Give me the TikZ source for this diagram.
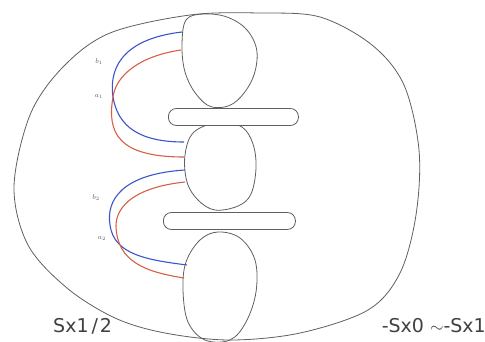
\documentclass[tikz,border=0pt]{standalone}
\usepackage{fontspec}
\newfontfamily\lblfont{DejaVu Sans}
\definecolor{outl}{RGB}{95,95,95}
\definecolor{cblue}{RGB}{60,85,200}
\definecolor{cred}{RGB}{215,95,70}
\tikzset{
  shapeline/.style={draw=outl, line width=0.8pt},
  bluecurve/.style={draw=cblue, line width=1.1pt},
  redcurve/.style={draw=cred, line width=1.1pt},
  barbox/.style={draw=outl, line width=0.8pt, fill=white, rounded corners=8pt},
  smalllbl/.style={font=\fontsize{7.5}{8}\selectfont, text=outl, inner sep=0pt},
  biglbl/.style={font=\lblfont\fontsize{19}{20}\selectfont, text=black!75, inner sep=0pt}
}
\begin{document}
\begin{tikzpicture}[x=1pt,y=-1pt]
\useasboundingbox (0,0) rectangle (485,341);
% outer boundary
\draw[shapeline] plot[smooth cycle, tension=0.55] coordinates {
 (230,340) (300,333) (368,310) (400,273) (416,215) (419,150) (404,85) (372,45) (320,17) (260,13) (190,15)
 (110,33) (63,67) (30,115) (14,187) (28,245) (67,288) (115,318) (165,333)};
% top blob
\draw[shapeline] plot[smooth cycle, tension=0.6] coordinates {
 (186,20) (182,45) (185,72) (196,94) (212,107) (234,103) (252,80) (257,52) (247,30) (227,17) (203,14)};
% middle blob
\draw[shapeline] plot[smooth cycle, tension=0.6] coordinates {
 (194,132) (185,155) (187,182) (198,200) (215,210) (238,206) (251,194) (256,168) (253,144) (242,127) (220,122)};
% bottom blob
\draw[shapeline] plot[smooth cycle, tension=0.6] coordinates {
 (200,240) (186,262) (183,290) (188,322) (205,340) (230,340) (246,322) (256,292) (255,260) (240,238) (218,232)};
% bars
\node[barbox, minimum width=130pt, minimum height=17pt, anchor=west] (bar1) at (168,117) {};
\node[barbox, minimum width=132pt, minimum height=17pt, anchor=west] (bar2) at (163,221) {};
% curves upper
\draw[bluecurve] (182,32) .. controls (130,38) and (108,62) .. (113,97) .. controls (118,127) and (140,142) .. (184,142);
\draw[redcurve] (181,50) .. controls (140,56) and (116,75) .. (113,97) .. controls (107,132) and (117,157) .. (184,157);
% curves lower
\draw[bluecurve] (185,170) .. controls (122,174) and (106,200) .. (110,225) .. controls (114,255) and (148,260) .. (187,265);
\draw[redcurve] (185,182) .. controls (137,187) and (116,205) .. (116,226) .. controls (117,262) and (146,272) .. (184,278);
% labels
\node[smalllbl] (lb1) at (99,62) {$b_1$};
\node[smalllbl] (la1) at (99,96) {$a_1$};
\node[smalllbl] (lb2) at (96,198) {$b_2$};
\node[smalllbl] (la2) at (102,238) {$a_2$};
\node[biglbl, anchor=base west] (t1) at (53,332) {Sx1\kern3pt/\kern2pt2};
\node[biglbl, anchor=base east] (t2) at (486,332) {-Sx0 $\sim$-Sx1};
\end{tikzpicture}
\end{document}
